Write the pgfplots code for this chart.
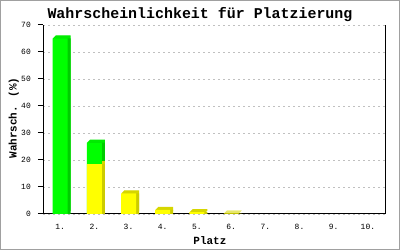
\documentclass[border=0pt]{standalone}
\usepackage{fontspec}
\setmainfont{Liberation Mono}
\usepackage{pgfplots}
\usepackage{pgfplotstable}
\pgfplotsset{compat=1.18}
\definecolor{gfront}{RGB}{0,255,0}
\definecolor{gtop}{RGB}{0,236,0}
\definecolor{gside}{RGB}{0,204,0}
\definecolor{yfront}{RGB}{255,255,0}
\definecolor{ytop}{RGB}{214,214,0}
\definecolor{yside}{RGB}{204,204,0}
\definecolor{frame}{RGB}{160,160,160}
\definecolor{gridc}{RGB}{192,192,192}
% green = total bar height (green on top), yellow = lower part; places 7-10 are 0
\pgfplotstableread{
x total
1 65.0
2 26.4
}\greendata
\pgfplotstableread{
x yellow
2 18.5
3 7.6
4 1.5
5 0.7
6 0.15
}\yellowdata
\begin{document}
\begin{tikzpicture}
\path[use as bounding box] (0,0) rectangle (400bp,250bp);
\draw[frame, line width=1bp] (0.5bp,0.5bp) rectangle (399.5bp,249.5bp);
\begin{axis}[
  at={(43bp,36bp)}, anchor=south west,
  scale only axis, width=342bp, height=189bp,
  xmin=0.5, xmax=10.5, ymin=0, ymax=70,
  enlargelimits=false, clip=false,
  ybar, bar width=15bp,
  axis x line=bottom, axis y line=left,
  axis line style={-, black, line width=1bp},
  xtick={1,...,10},
  xticklabels={1.,2.,3.,4.,5.,6.,7.,8.,9.,10.},
  xtick style={draw=none},
  ytick={0,10,...,70},
  ytick style={black, line width=1bp},
  tick align=outside, major tick length=5bp,
  ymajorgrids=true,
  major grid style={gridc, dash pattern=on 2bp off 3bp, line width=0.8bp},
  /pgf/number format/assume math mode=true,
  ticklabel style={font=\fontsize{8}{9}\selectfont},
  yticklabel style={anchor=east, inner sep=0pt, xshift=-7bp},
  xticklabel style={anchor=north, inner sep=0pt, yshift=-5bp},
  title={Wahrscheinlichkeit für Platzierung},
  title style={font=\fontsize{15}{18}\selectfont\bfseries, at={(axis description cs:0.459,1.041)}, anchor=base, yshift=-7bp},
  xlabel={Platz},
  xlabel style={font=\fontsize{11}{13}\selectfont\bfseries, at={(axis description cs:0.488,-0.161)}, anchor=base},
  ylabel={Wahrsch. (\%)},
  ylabel style={font=\fontsize{11}{13}\selectfont\bfseries, at={(axis description cs:-0.077,0.508)}, anchor=base, rotate=0},
  every axis plot/.append style={draw=none, bar shift=0pt},
]
% green back faces
\addplot[fill=gtop, xshift=0.5bp, yshift=0.5bp] table[x=x,y=total] {\greendata};
\addplot[fill=gtop, xshift=1bp, yshift=1bp] table[x=x,y=total] {\greendata};
\addplot[fill=gtop, xshift=1.5bp, yshift=1.5bp] table[x=x,y=total] {\greendata};
\addplot[fill=gtop, xshift=2bp, yshift=2bp] table[x=x,y=total] {\greendata};
\addplot[fill=gtop, xshift=2.5bp, yshift=2.5bp] table[x=x,y=total] {\greendata};
\addplot[fill=gtop, xshift=3bp, yshift=3bp] table[x=x,y=total] {\greendata};
\addplot[fill=gside, xshift=3bp] table[x=x,y=total] {\greendata};
% yellow back faces
\addplot[fill=ytop, xshift=0.5bp, yshift=0.5bp] table[x=x,y=yellow] {\yellowdata};
\addplot[fill=ytop, xshift=1bp, yshift=1bp] table[x=x,y=yellow] {\yellowdata};
\addplot[fill=ytop, xshift=1.5bp, yshift=1.5bp] table[x=x,y=yellow] {\yellowdata};
\addplot[fill=ytop, xshift=2bp, yshift=2bp] table[x=x,y=yellow] {\yellowdata};
\addplot[fill=ytop, xshift=2.5bp, yshift=2.5bp] table[x=x,y=yellow] {\yellowdata};
\addplot[fill=ytop, xshift=3bp, yshift=3bp] table[x=x,y=yellow] {\yellowdata};
\addplot[fill=yside, xshift=3bp] table[x=x,y=yellow] {\yellowdata};
% fronts
\addplot[fill=gfront] table[x=x,y=total] {\greendata};
\addplot[fill=yfront] table[x=x,y=yellow] {\yellowdata};
\draw[black, line width=1bp] (rel axis cs:1,0) -- (rel axis cs:1,1);
\end{axis}
\end{tikzpicture}
\end{document}
